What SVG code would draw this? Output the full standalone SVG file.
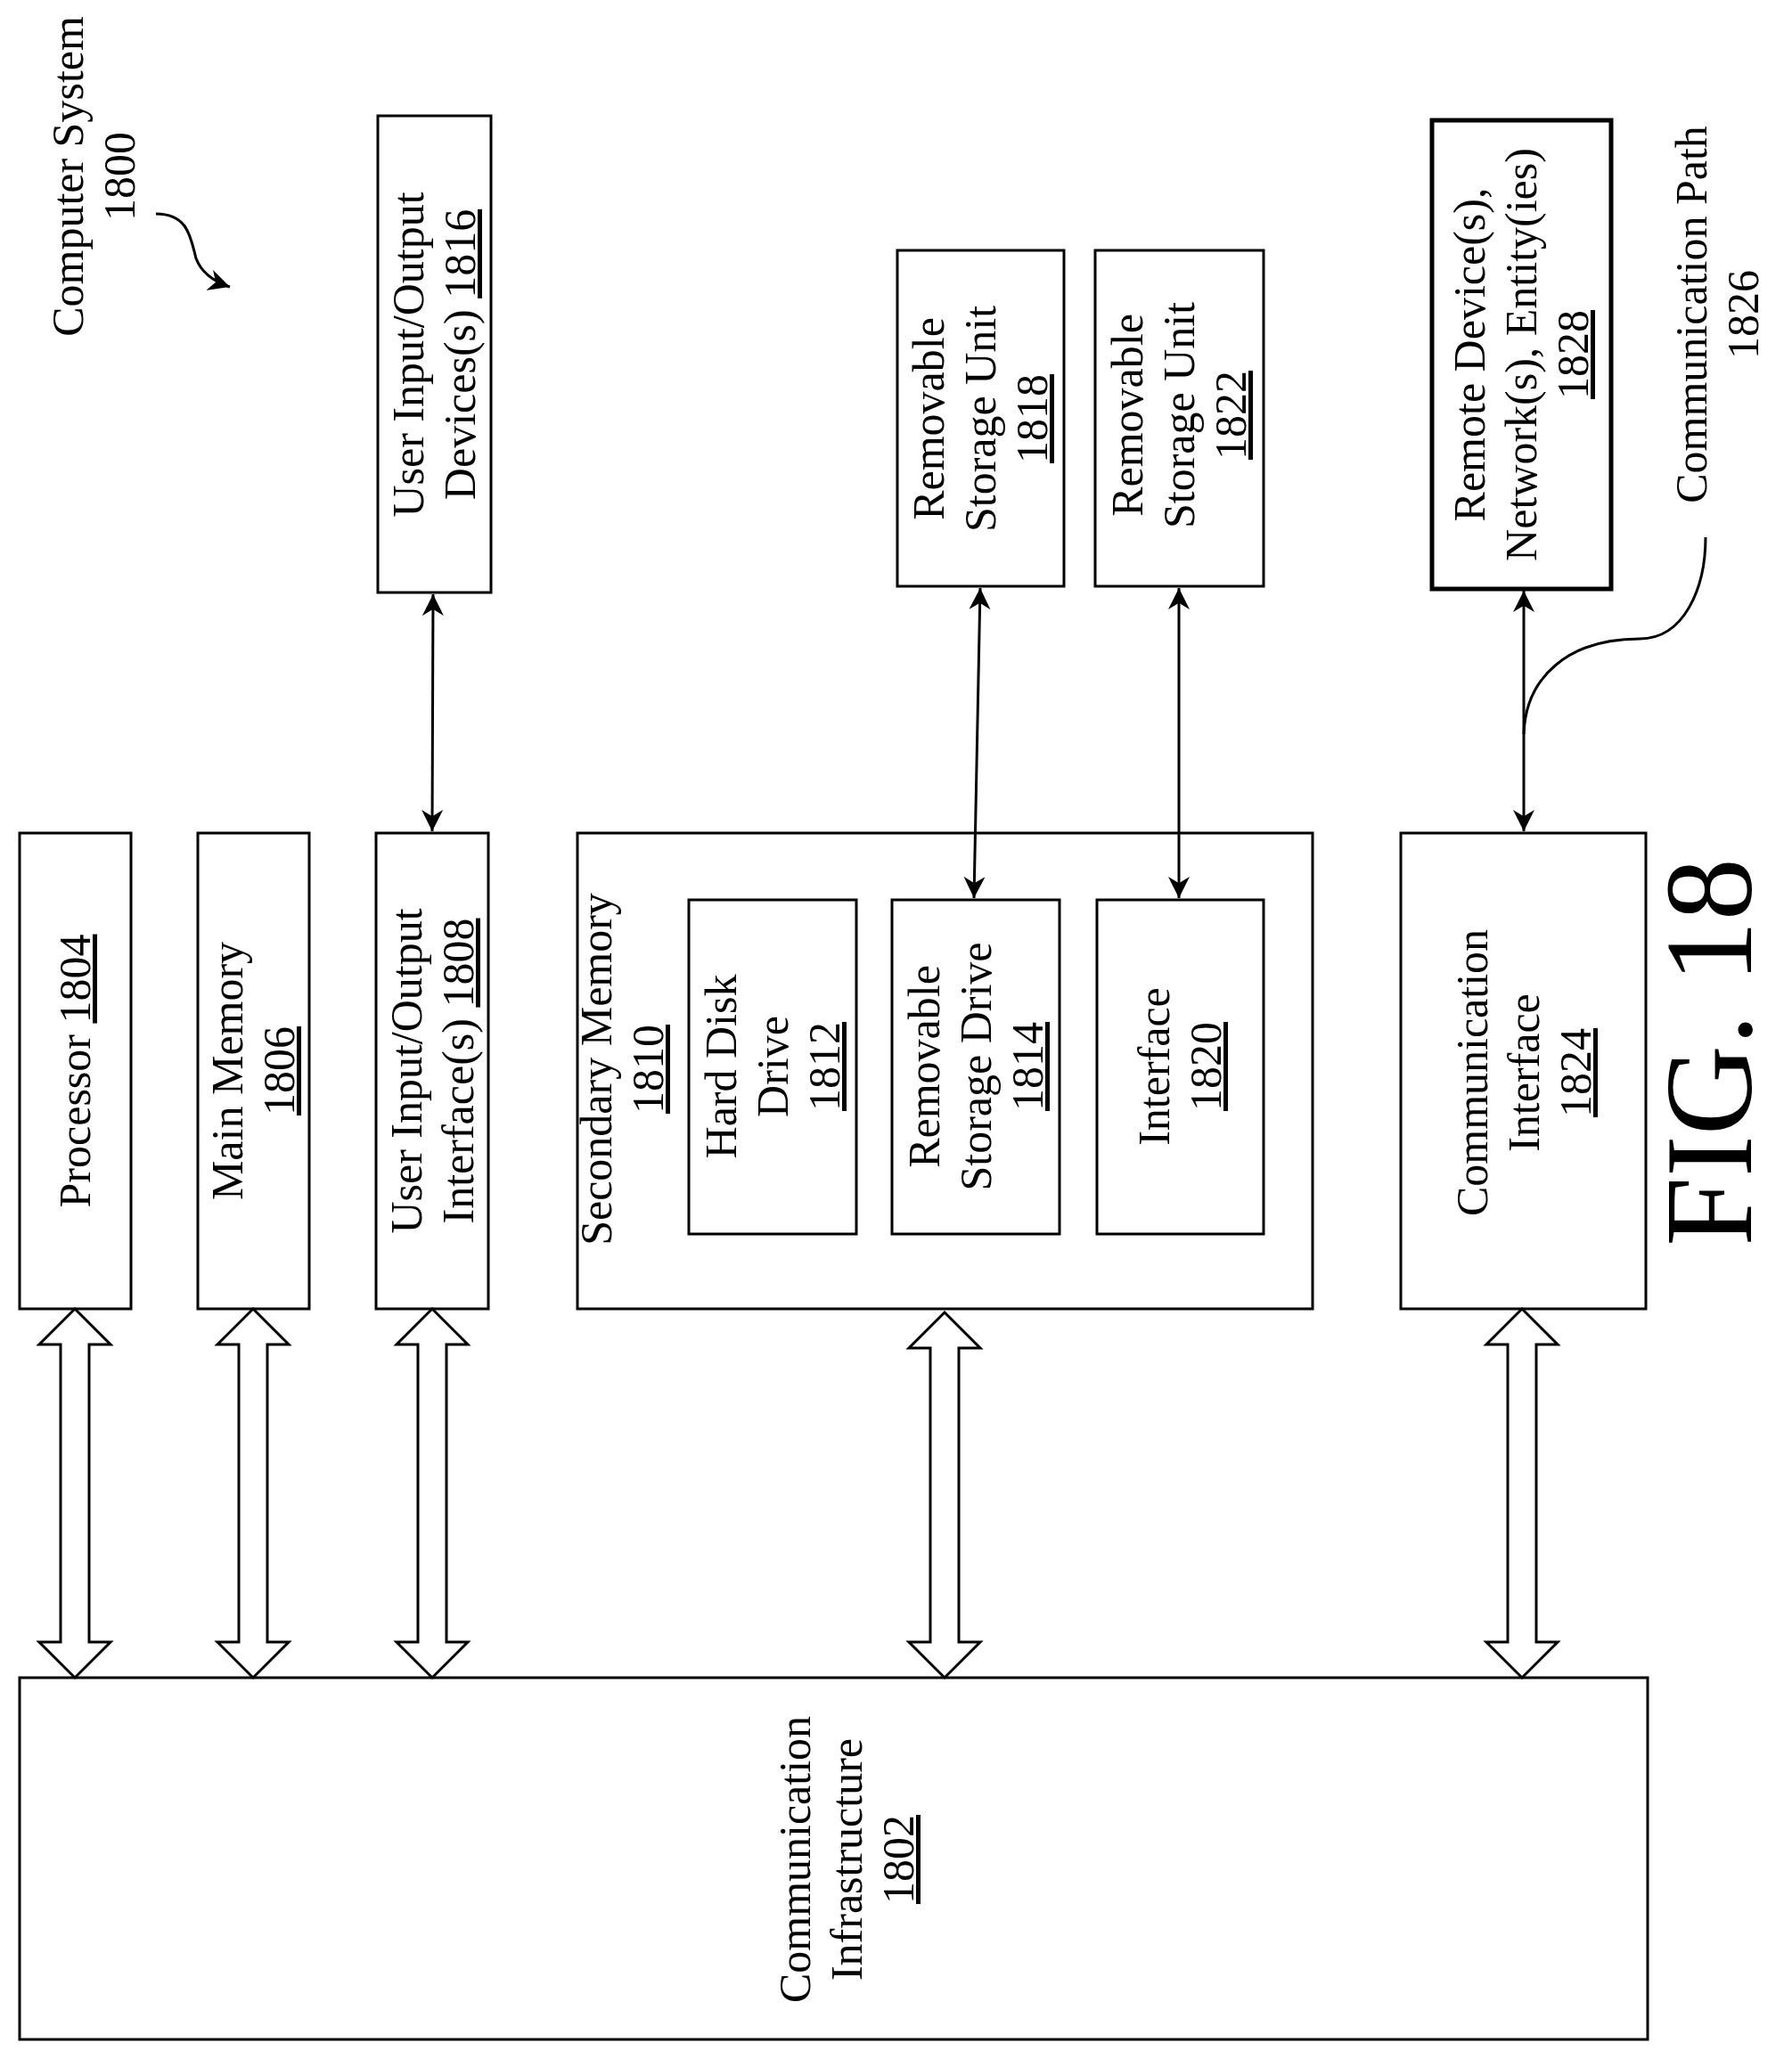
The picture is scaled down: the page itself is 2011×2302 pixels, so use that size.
<svg xmlns="http://www.w3.org/2000/svg" width="2011" height="2302" viewBox="0 0 2011 2302">
<style>
.b{fill:#fff;stroke:#000;stroke-width:3}
.t{font-family:"Liberation Serif",serif;font-size:50px;fill:#000;text-anchor:middle}
.u{text-decoration:underline}
.c{fill:none;stroke:#000;stroke-width:3}
.h{fill:#fff;stroke:#000;stroke-width:3;stroke-linejoin:miter}
</style>
<defs>
<marker id="a2" viewBox="0 0 10 10" refX="10" refY="5" markerWidth="24" markerHeight="24" markerUnits="userSpaceOnUse" orient="auto-start-reverse"><path d="M0,0 L10,5 L0,10 L3,5 Z" fill="#000"/></marker>
</defs>
<rect width="2011" height="2302" fill="#fff"/>
<g id="label1800">
<text class="t" transform="translate(105,198) rotate(-90)"><tspan x="0" y="-12">Computer System</tspan><tspan x="0" dy="58">1800</tspan></text>
<path class="c" d="M175,240 C212,240 214,268 220,290 C226,306 240,316 258,322" marker-end="url(#a2)"/>
</g>
<g id="n1804"><rect class="b" x="22" y="935" width="125" height="534"/>
<text class="t" transform="translate(84,1202) rotate(-90)"><tspan x="0" y="17">Processor <tspan class="u">1804</tspan></tspan></text></g>
<g id="n1806"><rect class="b" x="222" y="935" width="125" height="534"/>
<text class="t" transform="translate(284,1202) rotate(-90)"><tspan x="0" y="-12">Main Memory</tspan><tspan x="0" dy="58" class="u">1806</tspan></text></g>
<g id="n1808"><rect class="b" x="422" y="935" width="126" height="534"/>
<text class="t" transform="translate(485,1202) rotate(-90)"><tspan x="0" y="-12">User Input/Output</tspan><tspan x="0" dy="58">Interface(s) <tspan class="u">1808</tspan></tspan></text></g>
<g id="n1810"><rect class="b" x="648" y="935" width="825" height="534"/>
<text class="t" transform="translate(680,1200) rotate(-90)"><tspan x="0" y="6">Secondary Memory</tspan><tspan x="0" dy="58" class="u">1810</tspan></text></g>
<g id="n1812"><rect class="b" x="773" y="1010" width="188" height="375"/>
<text class="t" transform="translate(867,1197) rotate(-90)"><tspan x="0" y="-41">Hard Disk</tspan><tspan x="0" dy="58">Drive</tspan><tspan x="0" dy="58" class="u">1812</tspan></text></g>
<g id="n1814"><rect class="b" x="1001" y="1010" width="188" height="375"/>
<text class="t" transform="translate(1095,1197) rotate(-90)"><tspan x="0" y="-41">Removable</tspan><tspan x="0" dy="58">Storage Drive</tspan><tspan x="0" dy="58" class="u">1814</tspan></text></g>
<g id="n1820"><rect class="b" x="1231" y="1010" width="187" height="375"/>
<text class="t" transform="translate(1324,1197) rotate(-90)"><tspan x="0" y="-12">Interface</tspan><tspan x="0" dy="58" class="u">1820</tspan></text></g>
<g id="n1824"><rect class="b" x="1572" y="935" width="275" height="534"/>
<text class="t" transform="translate(1710,1204) rotate(-90)"><tspan x="0" y="-41">Communication</tspan><tspan x="0" dy="58">Interface</tspan><tspan x="0" dy="58" class="u">1824</tspan></text></g>
<g id="n1802"><rect class="b" x="22" y="1883" width="1827" height="406"/>
<text class="t" transform="translate(950,2087) rotate(-90)"><tspan x="0" y="-41">Communication</tspan><tspan x="0" dy="58">Infrastructure</tspan><tspan x="0" dy="58" class="u">1802</tspan></text></g>
<g id="n1816"><rect class="b" x="424" y="130" width="127" height="535"/>
<text class="t" transform="translate(487,398) rotate(-90)"><tspan x="0" y="-12">User Input/Output</tspan><tspan x="0" dy="58">Devices(s) <tspan class="u">1816</tspan></tspan></text></g>
<g id="n1818"><rect class="b" x="1007" y="281" width="187" height="377"/>
<text class="t" transform="translate(1100,470) rotate(-90)"><tspan x="0" y="-41">Removable</tspan><tspan x="0" dy="58">Storage Unit</tspan><tspan x="0" dy="58" class="u">1818</tspan></text></g>
<g id="n1822"><rect class="b" x="1229" y="281" width="189" height="377"/>
<text class="t" transform="translate(1323,466) rotate(-90)"><tspan x="0" y="-41">Removable</tspan><tspan x="0" dy="58">Storage Unit</tspan><tspan x="0" dy="58" class="u">1822</tspan></text></g>
<g id="n1828"><rect class="b" style="stroke-width:5" x="1607" y="135" width="201" height="526"/>
<text class="t" transform="translate(1707,398) rotate(-90)"><tspan x="0" y="-41">Remote Device(s),</tspan><tspan x="0" dy="58">Network(s), Entity(ies)</tspan><tspan x="0" dy="58" class="u">1828</tspan></text></g>
<g id="label1826">
<text class="t" transform="translate(1927,353) rotate(-90)"><tspan x="0" y="-12">Communication Path</tspan><tspan x="0" dy="58">1826</tspan></text>
</g>
<g id="connectors">
<polygon class="h" points="84,1469 124,1509 100,1509 100,1843 124,1843 84,1883 44,1843 68,1843 68,1509 44,1509"/>
<polygon class="h" points="284,1469 324,1509 300,1509 300,1843 324,1843 284,1883 244,1843 268,1843 268,1509 244,1509"/>
<polygon class="h" points="485,1469 525,1509 501,1509 501,1843 525,1843 485,1883 445,1843 469,1843 469,1509 445,1509"/>
<polygon class="h" points="1060,1473 1100,1513 1076,1513 1076,1843 1100,1843 1060,1883 1020,1843 1044,1843 1044,1513 1020,1513"/>
<polygon class="h" points="1708,1469 1748,1509 1724,1509 1724,1843 1748,1843 1708,1883 1668,1843 1692,1843 1692,1509 1668,1509"/>
<line class="c" x1="486" y1="667" x2="485" y2="933" marker-start="url(#a2)" marker-end="url(#a2)"/>
<line class="c" x1="1100" y1="660" x2="1093" y2="1008" marker-start="url(#a2)" marker-end="url(#a2)"/>
<line class="c" x1="1323" y1="660" x2="1323" y2="1008" marker-start="url(#a2)" marker-end="url(#a2)"/>
<line class="c" x1="1710" y1="663" x2="1710" y2="933" marker-start="url(#a2)" marker-end="url(#a2)"/>
<path class="c" d="M1710,824 C1712,760 1760,717 1840,717 C1890,717 1914,660 1914,603"/>
</g>
<text x="0" y="0" transform="translate(1965,1181) rotate(-90)" style="font-family:'Liberation Serif',serif;font-size:140px;text-anchor:middle">FIG. 18</text>
</svg>
